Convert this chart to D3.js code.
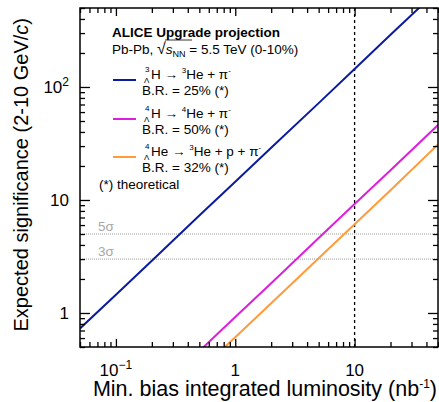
<!DOCTYPE html>
<html>
<head>
<meta charset="utf-8">
<script src="https://cdn.jsdelivr.net/npm/d3@7"></script>
<style>
  body { margin: 0; background: #fff; }
  svg { font-family: "Liberation Sans", Arial, sans-serif; }
</style>
</head>
<body>
<svg width="439" height="402"></svg>
<script>
// luminosity points (nb^-1) and expected significance
var lumi   = [0.05, 0.1, 0.2, 0.5, 1, 2, 5, 10, 20, 50];
var sigH3  = [0.73, 1.45, 2.9, 7.3, 14.5, 29, 72, 144, 290, 720];
var sigH4  = [0.046, 0.092, 0.18, 0.46, 0.92, 1.83, 4.6, 9.2, 18.3, 46];
var sigHe4 = [0.031, 0.061, 0.12, 0.31, 0.61, 1.22, 3.05, 6.1, 12.2, 31];
var seriesColors = ["#0b1ba0", "#dc1fdc", "#ff9b3a"];
var xMajor = [0.1, 1, 10];
var yMajor = [1, 10, 100];
var sigmaLines = [5, 3];
var lumiMark = 10;

var pL = 80, pR = 438, pT = 8, pB = 347;
var svg = d3.select("svg");

var x = d3.scaleLog().domain([0.05, 50]).range([pL, pR]);
var y = d3.scaleLog().domain([0.5, 500]).range([pB, pT]);

function minors(domain) {
    var out = [];
    for (var e = -3; e <= 3; e++) {
        for (var m = 2; m <= 9; m++) {
            var v = m * Math.pow(10, e);
            if (v >= domain[0] && v <= domain[1]) out.push(v);
        }
    }
    return out;
}
var xMinor = minors(x.domain());
var yMinor = minors(y.domain());

svg.append("clipPath").attr("id", "plot")
    .append("rect").attr("x", pL).attr("y", pT)
    .attr("width", pR - pL).attr("height", pB - pT);

// sigma reference lines
svg.selectAll(".sig").data(sigmaLines).enter().append("line")
    .attr("x1", pL).attr("x2", pR)
    .attr("y1", function(d){ return y(d); }).attr("y2", function(d){ return y(d); })
    .attr("stroke", "#9a9a9a").attr("stroke-width", 1).attr("stroke-dasharray", "1,1");
svg.selectAll(".siglab").data(sigmaLines).enter().append("text")
    .attr("x", 98).attr("y", function(d){ return y(d) - 3; })
    .attr("fill", "#a8a8a8").attr("font-size", 13.5)
    .text(function(d){ return d + "\u03c3"; });

// vertical dashed line at 10 nb^-1
svg.append("line")
    .attr("x1", x(lumiMark)).attr("x2", x(lumiMark))
    .attr("y1", pT).attr("y2", pB)
    .attr("stroke", "#000").attr("stroke-width", 1.3).attr("stroke-dasharray", "3,3");

// curves
var line = d3.line().x(function(d){ return x(d[0]); }).y(function(d){ return y(d[1]); });
[sigH3, sigH4, sigHe4].forEach(function(s, i) {
    svg.append("path")
        .datum(lumi.map(function(l, j){ return [l, s[j]]; }))
        .attr("clip-path", "url(#plot)")
        .attr("fill", "none").attr("stroke", seriesColors[i]).attr("stroke-width", 2)
        .attr("d", line);
});

// axes: ticks on all four sides, pointing inward
function addAxis(axisFn, scale, vals, size, tr) {
    svg.append("g").attr("transform", tr)
        .call(axisFn(scale).tickValues(vals).tickSize(size).tickFormat(""))
        .call(function(g){ g.select(".domain").remove(); })
        .selectAll("line").attr("stroke", "#000").attr("stroke-width", 1.3);
}
addAxis(d3.axisBottom, x, xMajor, -8, "translate(0," + pB + ")");
addAxis(d3.axisBottom, x, xMinor, -5, "translate(0," + pB + ")");
addAxis(d3.axisTop, x, xMajor, -8, "translate(0," + pT + ")");
addAxis(d3.axisTop, x, xMinor, -5, "translate(0," + pT + ")");
addAxis(d3.axisLeft, y, yMajor, -10, "translate(" + pL + ",0)");
addAxis(d3.axisLeft, y, yMinor, -5, "translate(" + pL + ",0)");
addAxis(d3.axisRight, y, yMajor, -10, "translate(" + pR + ",0)");
addAxis(d3.axisRight, y, yMinor, -5, "translate(" + pR + ",0)");

svg.append("rect").attr("x", pL).attr("y", pT)
    .attr("width", pR - pL).attr("height", pB - pT)
    .attr("fill", "none").attr("stroke", "#000").attr("stroke-width", 1.5);

// tick labels
function powLabel(sel, v) {
    var e = Math.round(Math.log10(v));
    if (e === 0) { sel.text("1"); return; }
    if (e === 1) { sel.text("10"); return; }
    sel.append("tspan").text("10");
    sel.append("tspan").attr("dy", -7).attr("font-size", 12).text(e < 0 ? "\u2212" + (-e) : e);
}
xMajor.forEach(function(v) {
    var t = svg.append("text").attr("x", x(v)).attr("y", 376)
        .attr("font-size", 17).attr("text-anchor", "middle");
    powLabel(t, v);
});
yMajor.forEach(function(v) {
    var t = svg.append("text").attr("x", 69).attr("y", y(v) + 6)
        .attr("font-size", 17).attr("text-anchor", "end");
    powLabel(t, v);
});

// axis titles
var xt = svg.append("text").attr("x", 437).attr("y", 396)
    .attr("font-size", 21.5).attr("text-anchor", "end");
xt.append("tspan").text("Min. bias integrated luminosity (nb");
xt.append("tspan").attr("dy", -8).attr("font-size", 12).text("-1");
xt.append("tspan").attr("dy", 8).text(")");

var yt = svg.append("text").attr("transform", "translate(28,18) rotate(-90)")
    .attr("font-size", 20).attr("text-anchor", "end");
yt.append("tspan").text("Expected significance (2-10 GeV/");
yt.append("tspan").attr("font-style", "italic").text("c");
yt.append("tspan").text(")");

// legend
var fs = 13.5;
svg.append("text").attr("x", 112).attr("y", 37).attr("font-size", fs)
    .attr("font-weight", "bold").text("ALICE Upgrade projection");
var pb = svg.append("text").attr("x", 112).attr("y", 54).attr("font-size", fs);
pb.append("tspan").text("Pb-Pb, ");
pb.append("tspan").attr("font-size", 16).text("\u221a");
pb.append("tspan").attr("font-style", "italic").text("s");
pb.append("tspan").attr("dy", 3).attr("font-size", 9).text("NN");
pb.append("tspan").attr("dy", -3).text(" = 5.5 TeV (0-10%)");
svg.append("line").attr("x1", 165).attr("x2", 192).attr("y1", 40).attr("y2", 40)
    .attr("stroke", "#000").attr("stroke-width", 0.8);

var entries = [
    { pre: "3", nuc: "H", dau: ["3", "He + \u03c0"], br: "B.R. = 25% (*)", ly: 80 },
    { pre: "4", nuc: "H", dau: ["4", "He + \u03c0"], br: "B.R. = 50% (*)", ly: 119 },
    { pre: "4", nuc: "He", dau: ["3", "He + p + \u03c0"], br: "B.R. = 32% (*)", ly: 157 }
];
entries.forEach(function(d, i) {
    svg.append("line").attr("x1", 113).attr("x2", 136).attr("y1", d.ly).attr("y2", d.ly)
        .attr("stroke", seriesColors[i]).attr("stroke-width", 2);
    var base = d.ly - 1;
    svg.append("text").attr("x", 145).attr("y", base - 7).attr("font-size", 8).text(d.pre);
    svg.append("text").attr("x", 144).attr("y", base + 4).attr("font-size", 8).text("\u039b");
    var t = svg.append("text").attr("x", 151).attr("y", base).attr("font-size", fs);
    t.append("tspan").text(d.nuc + " \u2192 ");
    t.append("tspan").attr("dy", -6).attr("font-size", 8).text(d.dau[0]);
    t.append("tspan").attr("dy", 6).text(d.dau[1]);
    t.append("tspan").attr("dy", -6).attr("font-size", 8).text("-");
    svg.append("text").attr("x", 142).attr("y", base + 16).attr("font-size", fs).text(d.br);
});
svg.append("text").attr("x", 99).attr("y", 189).attr("font-size", fs).text("(*) theoretical");
</script>
</body>
</html>
